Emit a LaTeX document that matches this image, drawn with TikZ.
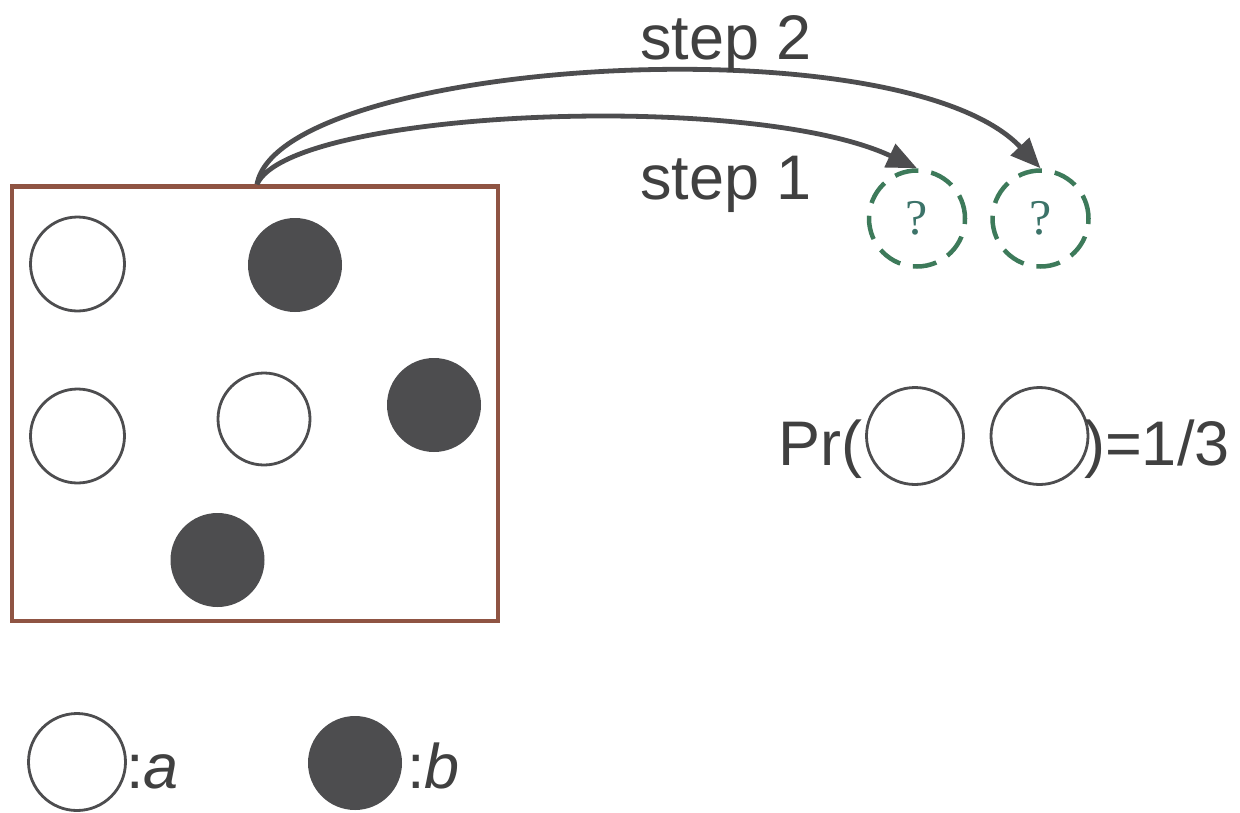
\documentclass[tikz,border=0pt]{standalone}
\usepackage{fontspec}
\setmainfont{Liberation Sans}
\newfontfamily\qfont{Liberation Serif}
\usetikzlibrary{arrows.meta}
\definecolor{ink}{RGB}{77,77,79}
\definecolor{boxbrown}{RGB}{143,84,67}
\definecolor{qgreen}{RGB}{61,122,90}
\definecolor{qmark}{RGB}{60,115,105}
\definecolor{txt}{RGB}{64,64,64}
\begin{document}
\begin{tikzpicture}[x=1pt,y=-1pt,
  ball/.style={circle,minimum size=94pt,inner sep=0pt,line width=2.8pt},
  white ball/.style={ball,draw=ink,fill=white},
  black ball/.style={ball,fill=ink},
  unknown/.style={circle,minimum size=96pt,inner sep=0pt,draw=qgreen,line width=4.5pt,
    dash pattern=on 24pt off 13pt,text=qmark,font=\qfont\fontsize{50}{56}\selectfont},
  label text/.style={inner sep=0pt,text=txt,font=\fontsize{63}{75}\selectfont},
  draw arrow/.style={draw=ink,line width=4.8pt,-{Triangle[length=30pt,width=25pt]}}]
  \useasboundingbox (0,0) rectangle (1240,812);

  % urn with its balls
  \node[draw=boxbrown,line width=4.5pt,minimum width=486pt,minimum height=434.5pt,inner sep=0pt] (box) at (255,403.75) {};
  \node[white ball] (w1) at (77.5,264) {};
  \node[black ball] (b1) at (295,265) {};
  \node[white ball] (w2) at (77.5,436) {};
  \node[white ball,minimum size=92pt] (w3) at (264,419) {};
  \node[black ball] (b2) at (434,405) {};
  \node[black ball] (b3) at (217.5,560) {};

  % drawn balls, unknown colour
  \node[unknown] (q1) at (917,218.5) {?};
  \node[unknown] (q2) at (1040.5,218.5) {?};

  % draws
  \coordinate (src) at ([xshift=2pt]box.north);
  \draw[draw arrow] (src) .. controls (290,110) and (750,90) .. (q1.north);
  \draw[draw arrow] (src) .. controls (280,60) and (900,20) .. (q2.north);
  \node[label text,anchor=base west] (s2) at (640,59) {step 2};
  \node[label text,anchor=base west] (s1) at (640,199) {step 1};

  % probability
  \node[label text,anchor=base west] (prl) at (778,465) {Pr(};
  \node[white ball,minimum size=97pt] (pr1) at (915,436) {};
  \node[white ball,minimum size=97pt] (pr2) at (1039.5,436) {};
  \node[label text,anchor=base west] (prr) at (1084,465) {)=1/3};

  % legend
  \node[white ball,minimum size=97pt] (la) at (77,762) {};
  \node[label text,anchor=base west] (lat) at (126,788) {:\textit{a}};
  \node[black ball] (lb) at (355,763) {};
  \node[label text,anchor=base west] (lbt) at (407,788) {:\textit{b}};
\end{tikzpicture}
\end{document}
